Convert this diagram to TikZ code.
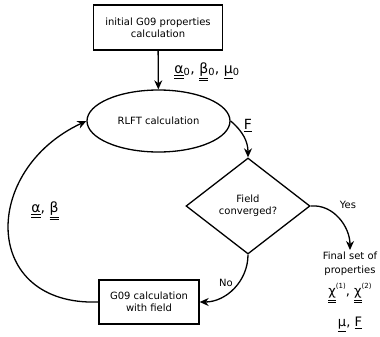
\documentclass[tikz,border=0pt]{standalone}
\usepackage{fontspec}
\setmainfont{DejaVu Sans}
\usetikzlibrary{arrows.meta, shapes.geometric}

\newcommand{\sul}[1]{\leavevmode\vtop{\hbox{#1}\kern1.3pt\hrule height1pt}}
\newcommand{\dul}[1]{\leavevmode\vtop{\hbox{#1}\kern1.3pt\hrule height1pt\kern1.8pt\hrule height1pt}}

\begin{document}
\begin{tikzpicture} [x=1pt, y=-1pt, line width=1.3pt,
	font=\fontsize{10}{12}\selectfont,
	stepbox/.style={draw, rectangle, align=center, inner sep=0pt},
	flowline/.style={-{Stealth[length=9pt, width=8pt]}},
	varlabel/.style={font=\fontsize{14}{16}\selectfont, inner sep=0pt}]
	%    border/.style={draw}
	
	\useasboundingbox (0,0) rectangle (380,337);
	
	\node[stepbox, minimum width=129pt, minimum height=45pt] (init) at (158,27.5) {initial G09 properties\\calculation};
	\node[draw, ellipse, minimum width=143pt, minimum height=62pt, inner sep=0pt] (rlft) at (158.5,121) {RLFT calculation};
	\node[draw, diamond, minimum width=124pt, minimum height=96pt, inner sep=0pt, align=center] (conv) at (248,206) {Field\\converged?};
	\node[stepbox, minimum width=100pt, minimum height=44pt] (gcalc) at (149,302) {G09 calculation\\with field};
	\node[align=center, anchor=north, inner sep=1pt, font=\fontsize{10}{14}\selectfont] (final) at (350,250)
		{Final set of\\properties\\[7pt]
		{\fontsize{13}{14}\selectfont \dul{χ}\raisebox{7pt}{\fontsize{7}{8}\selectfont(1)}, \dul{χ}\raisebox{7pt}{\fontsize{7}{8}\selectfont(2)}}\\[13pt]
		{\fontsize{13}{14}\selectfont \sul{μ}, \sul{F}}};
	
	% labels on the connectors
	\node[varlabel] (start) at (207,72) {\dul{α}\textsubscript{0}, \dul{β}\textsubscript{0}, \sul{μ}\textsubscript{0}};
	\node[varlabel] (field) at (248,126) {\sul{F}};
	\node[varlabel] (polar) at (45,211) {\dul{α}, \dul{β}};
	\node (yes) at (348,205) {Yes};
	\node (no) at (226,283) {No};
	
	\draw[flowline] (init) -- (rlft);
	\draw[flowline] (rlft.east) to[out=-40, in=90] (conv.north);
	\draw[flowline] (conv.east) to[out=5, in=90] (final.north);
	\draw[flowline] (conv.south) to[out=-90, in=0] (gcalc.east);
	\draw[flowline] (gcalc.west) to[out=182, in=205, looseness=1.65] (rlft.west);
	
\end{tikzpicture}
\end{document}
